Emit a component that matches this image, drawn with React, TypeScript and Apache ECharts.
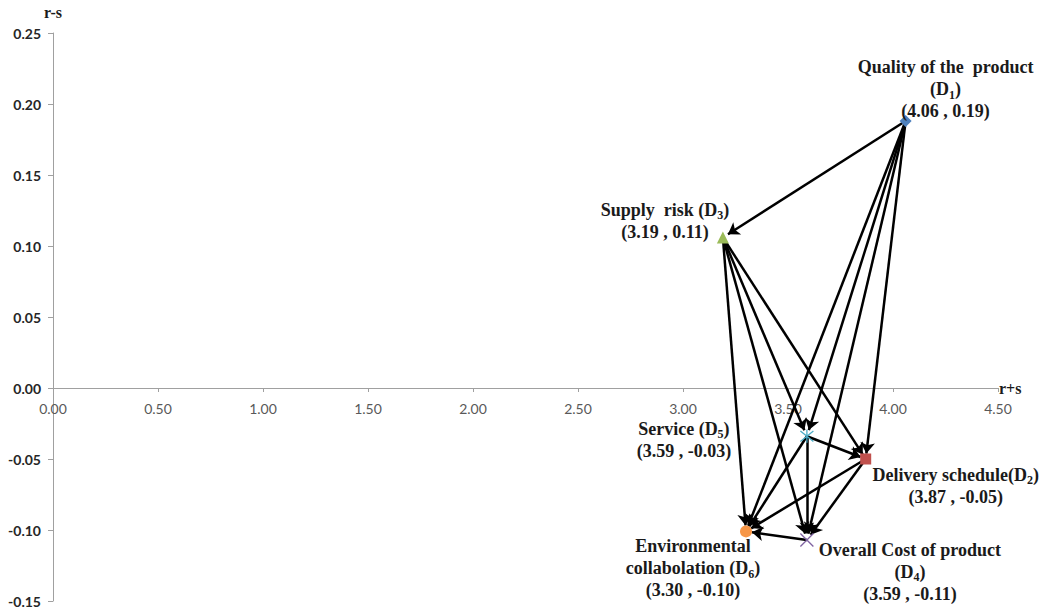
import React, { useEffect, useRef } from "react";
import * as echarts from "echarts";

// Criteria (D1..D6)
const names = [
  "Quality of the  product",
  "Delivery schedule",
  "Supply  risk",
  "Overall Cost of product",
  "Service",
  "Environmental collabolation",
];
const codes = ["1", "2", "3", "4", "5", "6"];
const rPlusS = [4.06, 3.87, 3.19, 3.59, 3.59, 3.3];
const rMinusS = [0.188, -0.05, 0.106, -0.107, -0.034, -0.101];
// influence relations: [from, to] (indices into the arrays above)
const links: [number, number][] = [
  [0, 2], [0, 4], [0, 1], [0, 5], [0, 3],
  [2, 4], [2, 1], [2, 5], [2, 3],
  [4, 1], [4, 5], [4, 3],
  [1, 5], [1, 3],
  [3, 5],
];
const xTicks = [0, 0.5, 1, 1.5, 2, 2.5, 3, 3.5, 4, 4.5];
const yTicks = [-0.15, -0.1, -0.05, 0, 0.05, 0.1, 0.15, 0.2, 0.25];

const colors = ["#4F81BD", "#C0504D", "#9BBB59", "#8064A2", "#4BACC6", "#F79646"];
const symbols = [
  "diamond",
  "rect",
  "triangle",
  "path://M0,0L10,10M10,0L0,10",
  "path://M0,1L10,9M10,1L0,9M5,0L5,10",
  "circle",
];
const symbolSizes = [12, 11, 12, 13, 13, 12];
const offsets: [number, number][] = [
  [40, -32],
  [90, 26],
  [-58, -17],
  [103, 32],
  [-123, 3],
  [-53, 37],
];

function fmt(v: number) {
  return v.toFixed(2);
}

function labelText(i: number): string {
  const coord = `{a|(${fmt(rPlusS[i])} , ${fmt(rMinusS[i])})}`;
  const sub = `{a|(D}{s|${codes[i]}}{a|)}`;
  if (i === 0 || i === 3) {
    return `{a|${names[i]}}\n${sub}\n${coord}`;
  }
  if (i === 5) {
    return `{a|Environmental}\n{a|collabolation (D}{s|${codes[i]}}{a|)}\n${coord}`;
  }
  if (i === 1) {
    return `{a|${names[i]}(D}{s|${codes[i]}}{a|)}\n${coord}`;
  }
  return `{a|${names[i]} (D}{s|${codes[i]}}{a|)}\n${coord}`;
}

const GRID_TOP = 33;
const GRID_BOTTOM = 10;
const CHART_H = 611;

export default function App() {
  const ref = useRef<HTMLDivElement>(null);
  useEffect(() => {
    document.body.style.margin = "0";
    const chart = echarts.init(ref.current!, null, { renderer: "svg" });
    const yMin = yTicks[0];
    const yMax = yTicks[yTicks.length - 1];
    const gridH = CHART_H - GRID_TOP - GRID_BOTTOM;
    const zeroOffset = (gridH * (0 - yMin)) / (yMax - yMin);
    const nodes = names.map((n, i) => {
      const isLine = i === 3 || i === 4;
      return {
        name: n,
        value: [rPlusS[i], rMinusS[i]],
        symbol: symbols[i],
        symbolSize: symbolSizes[i],
        itemStyle: isLine
          ? { color: colors[i], borderColor: colors[i], borderWidth: 1.3 }
          : { color: colors[i] },
        label: { offset: offsets[i] },
      };
    });
    chart.setOption({
      animation: false,
      grid: {
        left: 53,
        right: 45,
        top: GRID_TOP,
        bottom: GRID_BOTTOM,
        containLabel: false,
        outerBoundsMode: "none",
      },
      xAxis: {
        type: "value",
        position: "bottom",
        offset: -zeroOffset,
        min: xTicks[0],
        max: xTicks[xTicks.length - 1],
        interval: 0.5,
        name: "r+s",
        nameLocation: "end",
        nameGap: 1,
        nameTextStyle: {
          fontFamily: "Liberation Serif",
          fontWeight: "bold",
          fontSize: 16,
          color: "#1a1a1a",
          padding: [2, 0, 0, 0],
        },
        axisLine: { show: true, onZero: false, lineStyle: { color: "#A0A0A0", width: 1 } },
        axisTick: { show: true, length: 4, lineStyle: { color: "#A0A0A0" } },
        axisLabel: {
          formatter: (v: number) => fmt(v),
          fontFamily: "Lato",
          fontSize: 14,
          color: "#595959",
          margin: 13,
        },
        splitLine: { show: false },
      },
      yAxis: {
        type: "value",
        min: yMin,
        max: yMax,
        interval: 0.05,
        name: "r-s",
        nameLocation: "end",
        nameGap: 13,
        nameTextStyle: {
          fontFamily: "Liberation Serif",
          fontWeight: "bold",
          fontSize: 16,
          color: "#1a1a1a",
        },
        axisLine: { show: true, onZero: false, lineStyle: { color: "#A0A0A0", width: 1 } },
        axisTick: { show: true, length: 5, lineStyle: { color: "#A0A0A0" } },
        axisLabel: {
          formatter: (v: number) => fmt(v),
          fontFamily: "Lato",
          fontWeight: "bold",
          fontSize: 14,
          color: "#262626",
          margin: 12,
        },
        splitLine: { show: false },
      },
      series: [
        {
          type: "graph",
          coordinateSystem: "cartesian2d",
          xAxisIndex: 0,
          yAxisIndex: 0,
          data: nodes,
          links: links.map(([s, t]) => ({ source: s, target: t })),
          edgeSymbol: ["none", "arrow"],
          edgeSymbolSize: [0, 11],
          lineStyle: { color: "#000", width: 2.5, opacity: 1, curveness: 0 },
          emphasis: { disabled: true },
          z: 3,
          label: {
            show: true,
            position: "inside",
            align: "center",
            verticalAlign: "middle",
            formatter: (p: any) => labelText(p.dataIndex),
            rich: {
              a: {
                fontFamily: "Liberation Serif",
                fontWeight: "bold",
                fontSize: 18,
                lineHeight: 21,
                color: "#1a1a1a",
              },
              s: {
                fontFamily: "Liberation Serif",
                fontWeight: "bold",
                fontSize: 12,
                lineHeight: 23,
                verticalAlign: "bottom",
                color: "#1a1a1a",
              },
            },
          },
        },
      ],
    });
    return () => chart.dispose();
  }, []);
  return <div ref={ref} style={{ width: 1043, height: 611 }} />;
}
